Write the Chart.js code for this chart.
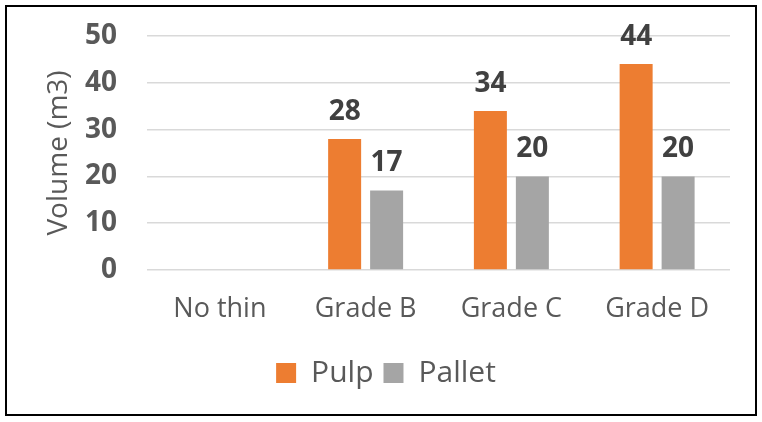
<!DOCTYPE html>
<html>
<head>
<meta charset="utf-8">
<script src="https://cdn.jsdelivr.net/npm/chart.js@4"></script>
<style>
  html, body { margin: 0; padding: 0; background: #fff; }
  #wrap { width: 762px; height: 422px; position: relative; }
</style>
</head>
<body>
<div id="wrap"><canvas id="volChart"></canvas></div>
<script>
const categories = ['No thin', 'Grade B', 'Grade C', 'Grade D'];
const pulpValues = [null, 28, 34, 44];
const palletValues = [null, 17, 20, 20];
const yTicks = [0, 10, 20, 30, 40, 50];

const FONT = "'Open Sans', 'Noto Sans', sans-serif";

// рамка вокруг всего рисунка
const frame = {
  id: 'frame',
  afterDraw(chart) {
    const c = chart.ctx;
    c.save();
    c.strokeStyle = '#000';
    c.lineWidth = 2;
    c.strokeRect(6, 6, 750, 409);
    c.restore();
  }
};

// подписи значений над столбцами
const valueLabels = {
  id: 'valueLabels',
  afterDatasetsDraw(chart) {
    const c = chart.ctx;
    c.save();
    c.font = 'bold 28px ' + FONT;
    c.fillStyle = '#404040';
    c.textAlign = 'center';
    c.textBaseline = 'middle';
    chart.data.datasets.forEach((ds, i) => {
      chart.getDatasetMeta(i).data.forEach((bar, j) => {
        const v = ds.data[j];
        if (v == null) return;
        c.fillText(String(v), bar.x, bar.y - 27);
      });
    });
    c.restore();
  }
};

new Chart(document.getElementById('volChart'), {
  type: 'bar',
  data: {
    labels: categories,
    datasets: [
      { label: 'Pulp', data: pulpValues, backgroundColor: '#ED7D31' },
      { label: 'Pallet', data: palletValues, backgroundColor: '#A5A5A5' }
    ]
  },
  options: {
    responsive: true,
    maintainAspectRatio: false,
    animation: false,
    categoryPercentage: 0.576,
    barPercentage: 0.786,
    layout: { padding: { left: 42, right: 32, top: 36, bottom: 24 } },
    scales: {
      x: {
        grid: { display: false, drawTicks: false },
        border: { display: false },
        ticks: { color: '#595959', font: { family: FONT, size: 27 }, padding: 23 },
        afterFit(scale) { scale.height = 78; }
      },
      y: {
        min: 0,
        max: 50,
        afterBuildTicks(scale) { scale.ticks = yTicks.map(v => ({ value: v })); },
        grid: { color: '#D9D9D9', lineWidth: 1.5, drawTicks: false },
        border: { display: false },
        ticks: { color: '#595959', font: { family: FONT, size: 28, weight: 'bold' }, padding: 30 },
        title: {
          display: true,
          text: 'Volume (m3)',
          color: '#595959',
          font: { family: FONT, size: 28 },
          padding: 0
        },
        afterFit(scale) {
          scale.width = 105;
          // отступы сверху/снизу задаёт layout.padding
          scale.paddingTop = 0;
          scale.paddingBottom = 0;
        }
      }
    },
    plugins: {
      legend: {
        position: 'bottom',
        labels: {
          color: '#595959',
          font: { family: FONT, size: 30 },
          boxWidth: 20,
          boxHeight: 20,
          padding: 10
        }
      },
      tooltip: { enabled: false }
    }
  },
  plugins: [frame, valueLabels]
});
</script>
</body>
</html>
